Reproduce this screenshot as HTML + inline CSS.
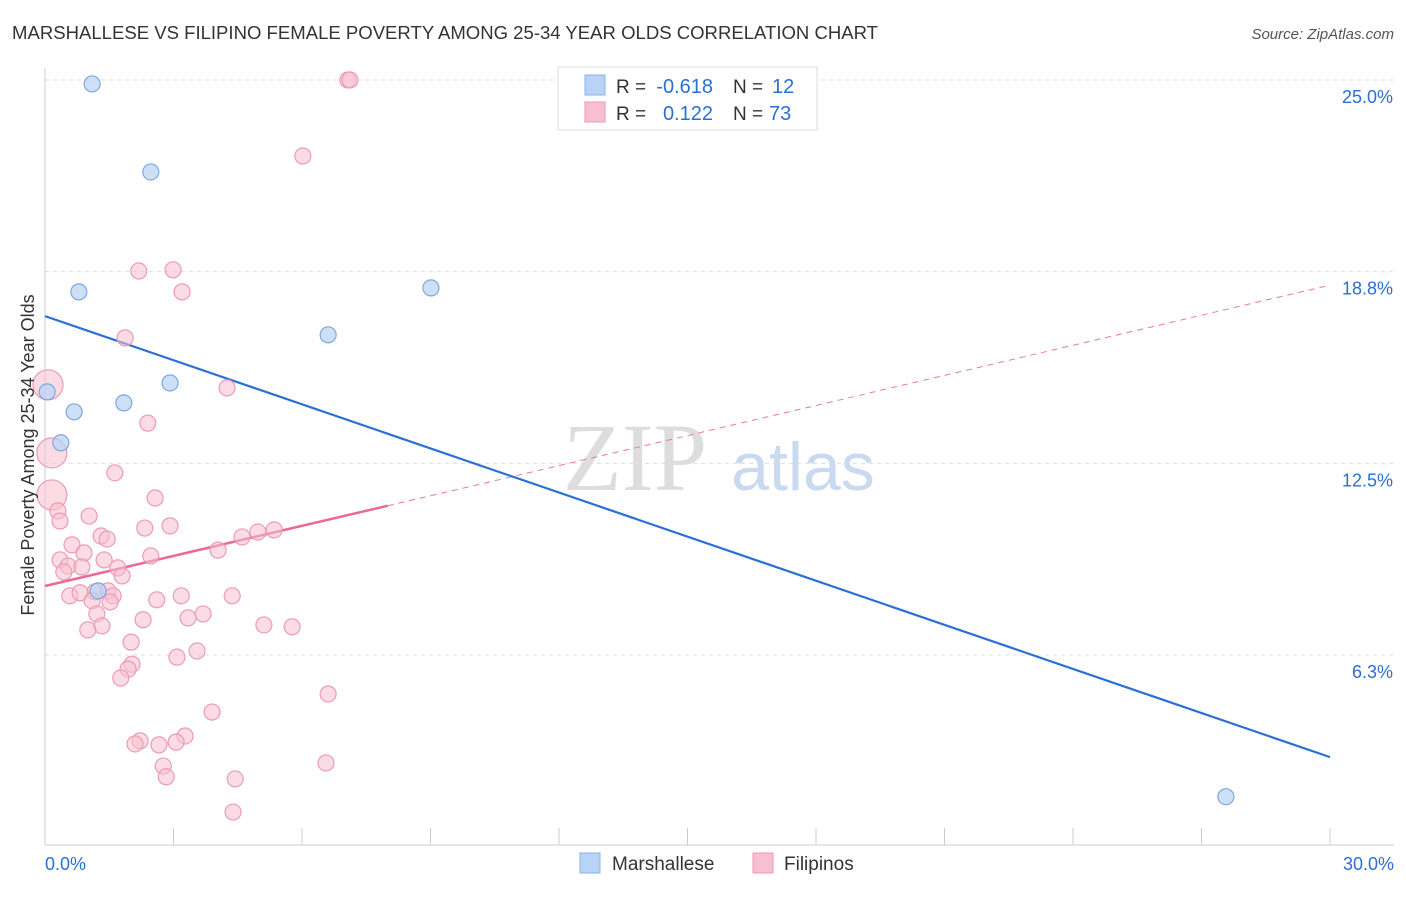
<!DOCTYPE html>
<html><head><meta charset="utf-8"><style>
body{margin:0;background:#fff;font-family:"Liberation Sans",sans-serif;}
</style></head><body>
<svg width="1406" height="892" xmlns="http://www.w3.org/2000/svg" id="chart">
<text x="12" y="39" font-size="18" fill="#333" textLength="866" lengthAdjust="spacingAndGlyphs">MARSHALLESE VS FILIPINO FEMALE POVERTY AMONG 25-34 YEAR OLDS CORRELATION CHART</text>
<text x="1394" y="39" font-size="15" fill="#555" font-style="italic" text-anchor="end">Source: ZipAtlas.com</text>
<g>
<text x="635" y="490" font-size="96" fill="#ddd" font-family="Liberation Serif,serif" text-anchor="middle">ZIP</text>
<text x="803" y="490" font-size="68" fill="#c9daf0" text-anchor="middle">atlas</text>
</g>
<g id="grid"></g><g id="axes"></g><g id="lines"></g><g id="pts"></g>
<text transform="translate(34,455) rotate(-90)" font-size="18" fill="#333" text-anchor="middle">Female Poverty Among 25-34 Year Olds</text>
<g>
<rect x="558" y="67" width="259" height="63" fill="#fff" stroke="#ddd"/>
<rect x="585" y="75" width="20" height="20" fill="#b8d3f5" stroke="#8ab4e8"/>
<rect x="585" y="102" width="20" height="20" fill="#f7bfd0" stroke="#ec9ab5"/>
<text x="616" y="93" font-size="19" fill="#333">R =</text>
<text x="713" y="93" font-size="20" fill="#2a6fd6" text-anchor="end">-0.618</text>
<text x="733" y="93" font-size="19" fill="#333">N =</text>
<text x="772" y="93" font-size="20" fill="#2a6fd6">12</text>
<text x="616" y="120" font-size="19" fill="#333">R =</text>
<text x="713" y="120" font-size="20" fill="#2a6fd6" text-anchor="end">0.122</text>
<text x="733" y="120" font-size="19" fill="#333">N =</text>
<text x="769" y="120" font-size="20" fill="#2a6fd6">73</text>
</g>
<g>
<rect x="580" y="853" width="20" height="20" fill="#b8d3f5" stroke="#8ab4e8"/>
<text x="612" y="870" font-size="19" fill="#333">Marshallese</text>
<rect x="753" y="853" width="20" height="20" fill="#f7bfd0" stroke="#ec9ab5"/>
<text x="784" y="870" font-size="19" fill="#333">Filipinos</text>
</g>
</svg>
<script>
const blueX=[1.10,2.47,0.79,9.01,6.61,2.92,1.84,0.68,0.05,0.37,1.24,27.57];
const blueY=[24.87,22.0,18.09,18.22,16.69,15.12,14.47,14.18,14.83,13.17,8.34,1.63];
const pinkX=[7.07,7.12,6.02,2.19,2.99,3.20,1.87,4.25,0.07,2.40,0.16,1.63,0.16,2.57,0.30,0.35,1.03,2.33,2.92,4.60,4.97,5.35,1.31,1.45,0.63,0.91,0.35,1.38,2.47,4.04,0.54,0.86,0.44,1.70,1.80,1.17,1.47,1.59,0.58,0.82,1.10,1.52,2.61,3.18,4.37,1.21,3.69,3.34,2.29,1.33,1.00,5.11,5.77,2.01,3.55,3.08,2.03,1.94,1.77,6.61,3.90,3.27,2.22,2.10,2.66,3.06,6.56,2.76,2.83,4.44,4.39];
const pinkY=[25.0,25.0,22.52,18.77,18.81,18.09,16.59,14.96,15.06,13.81,12.84,12.19,11.47,11.37,10.95,10.62,10.78,10.39,10.46,10.10,10.26,10.33,10.13,10.03,9.84,9.58,9.35,9.35,9.48,9.67,9.15,9.12,8.96,9.09,8.83,8.31,8.34,8.18,8.18,8.28,8.02,7.98,8.05,8.18,8.18,7.59,7.59,7.46,7.40,7.20,7.07,7.23,7.17,6.67,6.38,6.18,5.95,5.79,5.50,4.98,4.39,3.61,3.45,3.35,3.32,3.41,2.73,2.63,2.28,2.21,1.13];
const pinkBig=[8,10,12];
const yTicks=[25.0,18.75,12.5,6.25];
const yTickLabels=["25.0%","18.8%","12.5%","6.3%"];
const blueLine=[17.30,2.92];
const pinkLine=[8.50,18.31];
const pinkSolidEnd=8.0;
const NS="http://www.w3.org/2000/svg";
const X=v=>45+v*(1285/30), Y=v=>846.7-v*30.67;
function mk(tag,attrs,parent){const e=document.createElementNS(NS,tag);for(const k in attrs)e.setAttribute(k,attrs[k]);document.getElementById(parent).appendChild(e);return e;}
yTicks.forEach((t,i)=>{
 const g=mk('line',{x1:45,x2:1394,y1:Y(t),y2:Y(t),stroke:'#ddd','stroke-dasharray':'4,4'},'grid');
 
 
 const l=mk('text',{x:1393,y:Y(t)+23,'font-size':18,fill:'#2a6fd6','text-anchor':'end'},'grid');
 l.textContent=yTickLabels[i];
 
 
});
const ax=mk('line',{x1:45,x2:1394,y1:845,y2:845,stroke:'#ccc'},'axes');


const ay=mk('line',{x1:45,x2:45,y1:68,y2:845,stroke:'#ccc'},'axes');


for(let i=0;i<=10;i++){const t=mk('line',{x1:X(i*3),x2:X(i*3),y1:828,y2:845,stroke:'#ccc'},'axes');
 
 }
const x0=mk('text',{x:45,y:870,'font-size':18,fill:'#2a6fd6'},'axes');x0.textContent='0.0%';


const x1=mk('text',{x:1394,y:870,'font-size':18,fill:'#2a6fd6','text-anchor':'end'},'axes');x1.textContent='30.0%';


pinkX.forEach((x,i)=>{const c=mk('circle',{cx:X(x),cy:Y(pinkY[i]),r:pinkBig.includes(i)?15:8,fill:'#f7bfd0','fill-opacity':0.55,stroke:'#ec9ab5','stroke-width':1.2},'pts');
 
 });
blueX.forEach((x,i)=>{const c=mk('circle',{cx:X(x),cy:Y(blueY[i]),r:8,fill:'#b8d3f5','fill-opacity':0.7,stroke:'#7aa8e0','stroke-width':1.2},'pts');
 
 });
const pf=v=>pinkLine[0]+(pinkLine[1]-pinkLine[0])*v/30;
const pd=mk('line',{x1:X(pinkSolidEnd),y1:Y(pf(pinkSolidEnd)),x2:X(30),y2:Y(pinkLine[1]),stroke:'#e8799f','stroke-width':1,'stroke-dasharray':'6,5'},'lines');


const ps=mk('line',{x1:X(0),y1:Y(pinkLine[0]),x2:X(pinkSolidEnd),y2:Y(pf(pinkSolidEnd)),stroke:'#e8699a','stroke-width':2.5},'lines');


const bl=mk('line',{x1:X(0),y1:Y(blueLine[0]),x2:X(30),y2:Y(blueLine[1]),stroke:'#2a6fd6','stroke-width':2.2},'lines');


</script>
</body></html>
